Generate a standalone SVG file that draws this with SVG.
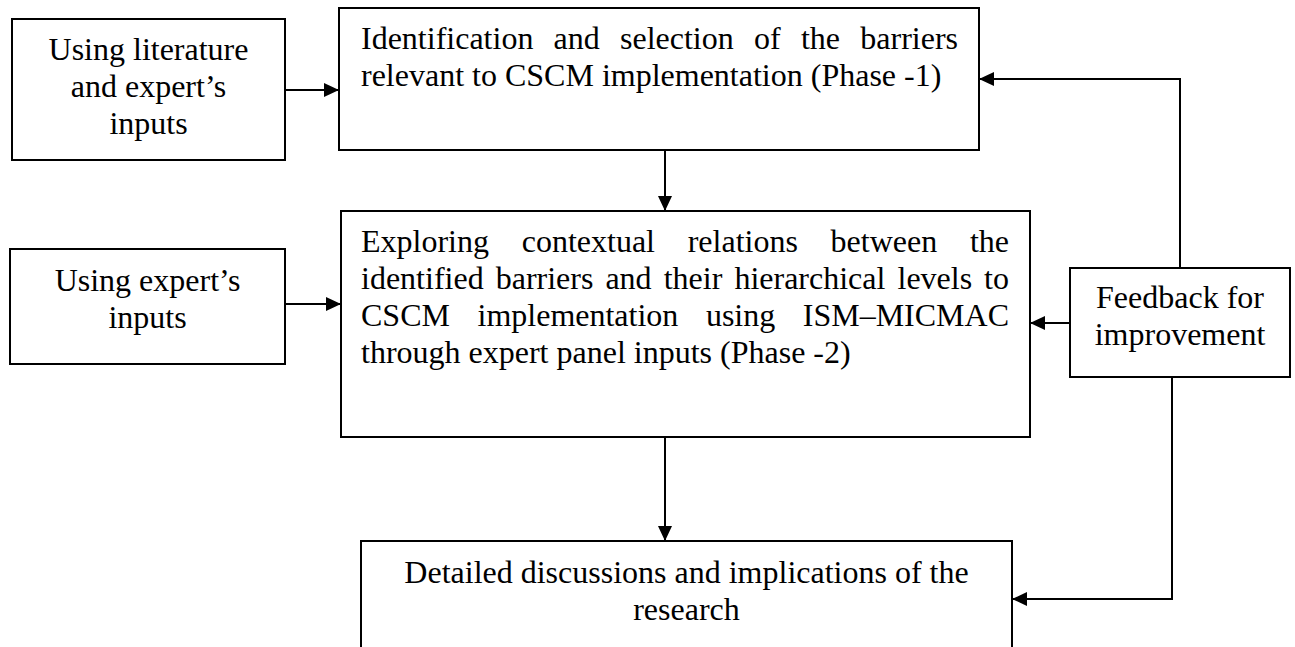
<svg xmlns="http://www.w3.org/2000/svg" width="1295" height="647" viewBox="0 0 1295 647">
<style>
.box{fill:#fff;stroke:#000;stroke-width:2}
.t{font-family:"Liberation Serif","Times New Roman",serif;font-size:32px;fill:#000}
.c{text-anchor:middle}
.e{text-anchor:end}
.con{fill:none;stroke:#000;stroke-width:2;marker-end:url(#ah)}
</style>
<defs>
<marker id="ah" markerUnits="userSpaceOnUse" markerWidth="15" markerHeight="14" refX="15" refY="7" orient="auto">
<path d="M0,0 L15,7 L0,14 z" fill="#000"/>
</marker>
</defs>
<rect width="1295" height="647" fill="#fff"/>
<g id="n-lit">
<rect class="box" x="12" y="19" width="273" height="141"/>
<text class="t c"><tspan x="148.5" y="60">Using literature</tspan><tspan x="148.5" y="97">and expert’s</tspan><tspan x="148.5" y="134">inputs</tspan></text>
</g>
<g id="n-phase1">
<rect class="box" x="339" y="8" width="640" height="142"/>
<text class="t" y="49"><tspan x="361">Identification</tspan><tspan x="553.6">and</tspan><tspan x="620">selection</tspan><tspan x="754">of</tspan><tspan x="800.9">the</tspan></text>
<text class="t e" x="958" y="49">barriers</text>
<text class="t" x="361" y="86">relevant to CSCM implementation (Phase -1)</text>
</g>
<g id="n-expert">
<rect class="box" x="10" y="249" width="275" height="115"/>
<text class="t c"><tspan x="147.5" y="291">Using expert’s</tspan><tspan x="147.5" y="328">inputs</tspan></text>
</g>
<g id="n-phase2">
<rect class="box" x="341" y="211" width="689" height="226"/>
<text class="t" y="252"><tspan x="361">Exploring</tspan><tspan x="521.7">contextual</tspan><tspan x="687.7">relations</tspan><tspan x="830.6">between</tspan></text>
<text class="t e" x="1009" y="252">the</text>
<text class="t" y="289"><tspan x="361">identified</tspan><tspan x="495.7">barriers</tspan><tspan x="605.4">and</tspan><tspan x="663.7">their</tspan><tspan x="734.4">hierarchical</tspan><tspan x="897.5">levels</tspan></text>
<text class="t e" x="1009" y="289">to</text>
<text class="t" y="326"><tspan x="361">CSCM</tspan><tspan x="477.5">implementation</tspan><tspan x="705.9">using</tspan></text>
<text class="t e" x="1009" y="326">ISM–MICMAC</text>
<text class="t" x="361" y="363">through expert panel inputs (Phase -2)</text>
</g>
<g id="n-feedback">
<rect class="box" x="1070" y="268" width="220" height="109"/>
<text class="t c"><tspan x="1180" y="308">Feedback for</tspan><tspan x="1180" y="345">improvement</tspan></text>
</g>
<g id="n-discuss">
<rect class="box" x="361" y="541" width="651" height="130"/>
<text class="t c"><tspan x="686.5" y="583">Detailed discussions and implications of the</tspan><tspan x="686.5" y="620">research</tspan></text>
</g>
<g id="connectors">
<path class="con" d="M285,90 H339"/>
<path class="con" d="M665,150 V211"/>
<path class="con" d="M285,304 H341"/>
<path class="con" d="M1070,323 H1030"/>
<path class="con" d="M1180,268 V79 H979"/>
<path class="con" d="M665,437 V541"/>
<path class="con" d="M1172,377 V599 H1012"/>
</g>
</svg>
